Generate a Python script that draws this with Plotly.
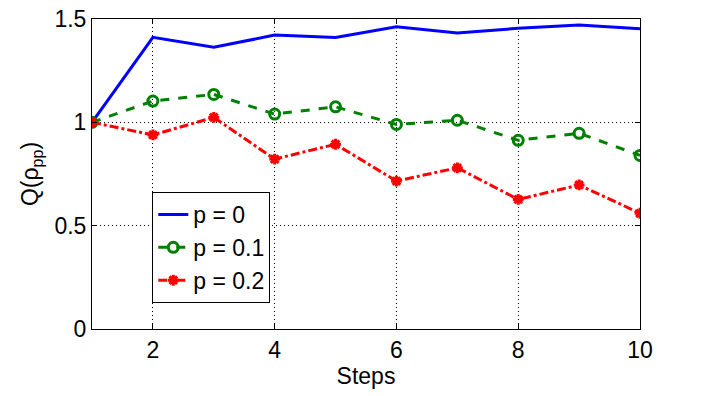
import plotly.graph_objects as go

# Q(rho_pp) per step for three noise levels
steps = [1, 2, 3, 4, 5, 6, 7, 8, 9, 10]
q_p0 = [1.0, 1.411, 1.363, 1.422, 1.410, 1.463, 1.432, 1.455, 1.471, 1.453]
q_p01 = [1.0, 1.103, 1.135, 1.040, 1.075, 0.990, 1.010, 0.913, 0.947, 0.840]
q_p02 = [1.0, 0.939, 1.024, 0.822, 0.894, 0.716, 0.780, 0.627, 0.697, 0.560]

font = "Liberation Sans, Arial, sans-serif"
fsize = 23

fig = go.Figure()
fig.add_trace(go.Scatter(
    x=steps, y=q_p0, name="p = 0", mode="lines",
    line=dict(color="#0000ff", width=3)
))
fig.add_trace(go.Scatter(
    x=steps, y=q_p01, name="p = 0.1", mode="lines+markers",
    line=dict(color="#008000", width=3, dash="dash"),
    marker=dict(symbol="circle-open", size=10, color="#008000",
                line=dict(width=3, color="#008000"))
))
fig.add_trace(go.Scatter(
    x=steps, y=q_p02, name="p = 0.2", mode="lines+markers",
    line=dict(color="#ff0000", width=3, dash="dashdot"),
    marker=dict(symbol="asterisk", size=9, color="#ff0000",
                line=dict(width=3, color="#ff0000"))
))

axis_common = dict(
    showline=True, linecolor="black", linewidth=1, mirror="allticks",
    ticks="inside", ticklen=5, tickcolor="black",
    showgrid=True, gridcolor="black", griddash="1px,3px", gridwidth=1,
    zeroline=False, automargin=False,
    tickfont=dict(family=font, size=fsize, color="black"),
)

fig.update_xaxes(
    range=[1, 10], tickvals=[2, 4, 6, 8, 10],
    title=dict(text="Steps", font=dict(family=font, size=fsize, color="black"), standoff=0),
    **axis_common
)
fig.update_yaxes(
    range=[0, 1.5], tickvals=[0, 0.5, 1, 1.5], ticktext=["0", "0.5", "1", "1.5"],
    title=dict(text="Q(ρ<sub>pp</sub>)", font=dict(family=font, size=fsize, color="black"), standoff=9),
    **axis_common
)

fig.update_layout(
    width=707, height=396,
    margin=dict(l=92, r=67, t=19, b=67),
    paper_bgcolor="white", plot_bgcolor="white",
    showlegend=True,
    legend=dict(
        x=0.11, y=0.442, xanchor="left", yanchor="top",
        bgcolor="white", bordercolor="black", borderwidth=1,
        font=dict(family=font, size=fsize, color="black"),
        itemwidth=30, tracegroupgap=0,
    ),
)

# drop the page's default body margin so the figure sits at the window origin
fig.write_html("out.html", config={"displayModeBar": False},
               post_script="document.body.style.margin='0';")
